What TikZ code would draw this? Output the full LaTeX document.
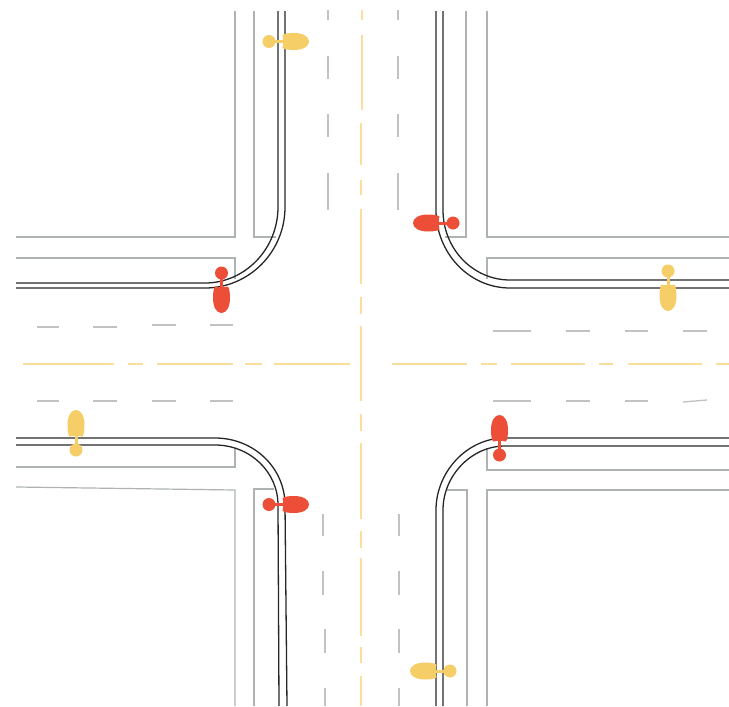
\documentclass[tikz,border=0pt]{standalone}
\usepackage{xcolor}
\definecolor{kerb}{HTML}{AEB3B2}
\definecolor{lanemark}{HTML}{C2C2C2}
\definecolor{centre}{HTML}{F9DE9C}
\definecolor{red}{HTML}{EC4E38}
\definecolor{amber}{HTML}{F6CE68}
\begin{document}
\begin{tikzpicture}[x=1pt,y=-1pt,
    kerbline/.style={draw=kerb,line width=1.2pt},
    lane/.style={draw=lanemark,line width=1.3pt},
    centreline/.style={draw=centre,line width=1.6pt},
    track/.style={draw=black!85,line width=1.3pt},
    scooter/.pic={
      \fill[pic actions] (0,0) circle (6.5);
      \fill[pic actions] (5,-1.5) rectangle (15,1.5);
      \fill[pic actions] (13.5,-6.5) .. controls (16,-8) and (20,-8.5) .. (25,-8.5)
        .. controls (34,-8.5) and (40,-5) .. (40,0)
        .. controls (40,5) and (34,8.5) .. (25,8.5)
        .. controls (20,8.5) and (16,8) .. (13.5,6.5)
        .. controls (14.5,2) and (14.5,-2) .. (13.5,-6.5) -- cycle;
    }]
    \useasboundingbox (0,0) rectangle (729,707);
    % kerbs
    \draw[kerbline] (16,237)--(235,237)--(235,11);
    \draw[kerbline] (254,11)--(254,237)--(276,237);
    \draw[kerbline] (16,258)--(235,258)--(235,279);
    \draw[kerbline] (466,11)--(466,237)--(445,237);
    \draw[kerbline] (487,11)--(487,237)--(729,237);
    \draw[kerbline] (729,258)--(487,258)--(487,279);
    \draw[kerbline] (16,467)--(235,467)--(235,448);
    \draw[kerbline] (16,487)--(235,490)--(235,706);
    \draw[kerbline] (274,489)--(254,489)--(254,706);
    \draw[kerbline] (729,470)--(487,470)--(487,448);
    \draw[kerbline] (729,490)--(487,490)--(487,706);
    \draw[kerbline] (446,490)--(467,490)--(467,706);
    % lane marks
    \foreach \ya/\yb/\xa/\xb in {327/327/37/59,327/327/93/117,325/325/152/176,325/325/210/233,
        401/401/37/59,401/401/93/117,401/401/152/176,401/401/210/233,
        331/331/493/531,331/331/566/590,331/331/625/648,331/331/683/707,
        401/401/493/531,401/401/566/590,401/401/625/648,402/400/683/707}
      \draw[lane] (\xa,\ya)--(\xb,\yb);
    \foreach \ya/\yb in {10/20,56/79,114/137,173/210}
      \draw[lane] (328,\ya)--(328,\yb) (398,\ya)--(398,\yb);
    \foreach \xa/\xb/\ya/\yb in {323/323/514/536,323/323/571/595,325/325/629/653,325/325/688/706}
      \draw[lane] (\xa,\ya)--(\xb,\yb);
    \foreach \ya/\yb in {514/536,571/595,629/653,688/706}
      \draw[lane] (399,\ya)--(399,\yb);
    % centre lines
    \foreach \xa/\xb in {23/114,128/143,157/233,245/262,274/350,392/467,481/497,511/585,599/613,628/702,716/729}
      \draw[centreline] (\xa,364)--(\xb,364);
    \foreach \ya/\yb in {10/20,35/110}
      \draw[centreline] (362,\ya)--(362,\yb);
    \foreach \ya/\yb in {123/165,180/195,209/284,297/314,326/401,414/431,443/519,531/548,558/636,647/663,676/706}
      \draw[centreline] (361,\ya)--(361,\yb);
    % tracks
    \draw[track] (16,283)--(205,283) .. controls (245,283) and (278,249) .. (278,207)--(278,11);
    \draw[track] (16,288)--(205,288) .. controls (249,288) and (285,252) .. (285,207)--(285,11);
    \draw[track] (443,11)--(443,210) .. controls (443,249) and (473,280) .. (510,280)--(729,280);
    \draw[track] (436,11)--(436,210) .. controls (436,253) and (469,288) .. (510,288)--(729,288);
    \draw[track] (16,445)--(215,445) .. controls (250,445) and (278,472) .. (278,505)--(279,706);
    \draw[track] (16,438)--(215,438) .. controls (254,438) and (285,468) .. (285,505)--(287,706);
    \draw[track] (729,446)--(505,446) .. controls (471,446) and (443,476) .. (443,510)--(443,706);
    \draw[track] (729,438)--(505,438) .. controls (467,438) and (436,472) .. (436,510)--(436,706);
    % scooters
    \foreach \hx/\hy/\turn in {221.5/273/-90,453/223/180,499.5/455/90,269/504.5/0}
      \pic[fill=red] at (\hx,\hy) [rotate=\turn] {scooter};
    \foreach \hx/\hy/\turn in {269/41.5/0,668/271/-90,76/450/90,450/671/180}
      \pic[fill=amber] at (\hx,\hy) [rotate=\turn] {scooter};
\end{tikzpicture}
\end{document}
